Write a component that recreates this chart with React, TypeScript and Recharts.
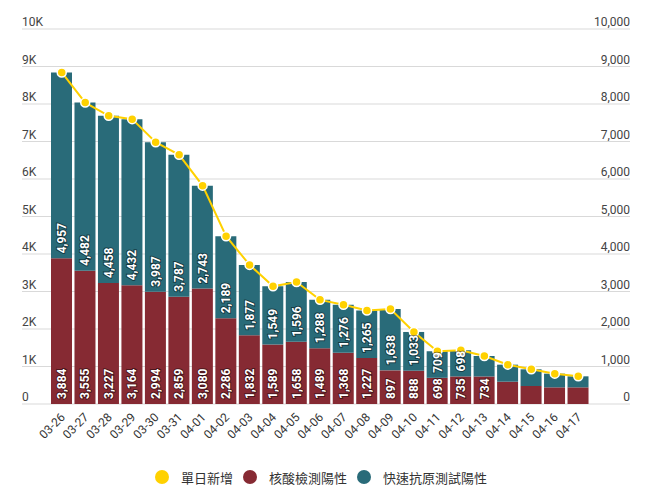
import React from 'react';
import { ComposedChart, Bar, Line, XAxis, YAxis, CartesianGrid, Legend, LabelList } from 'recharts';

const dates = ['03-26', '03-27', '03-28', '03-29', '03-30', '03-31', '04-01', '04-02', '04-03', '04-04', '04-05', '04-06', '04-07', '04-08', '04-09', '04-10', '04-11', '04-12', '04-13', '04-14', '04-15', '04-16', '04-17'];
const pcrPositive = [3884, 3555, 3227, 3164, 2994, 2859, 3080, 2286, 1832, 1589, 1658, 1489, 1368, 1227, 897, 888, 698, 735, 734, 595, 480, 444, 444];
const rapidPositive = [4957, 4482, 4458, 4432, 3987, 3787, 2743, 2189, 1877, 1549, 1596, 1288, 1276, 1265, 1638, 1033, 709, 698, 546, 454, 445, 365, 294];
const dailyNew = [8841, 8037, 7685, 7596, 6981, 6646, 5823, 4475, 3709, 3138, 3254, 2777, 2644, 2492, 2535, 1921, 1407, 1433, 1280, 1049, 925, 809, 738];
const yTicks = [0, 1000, 2000, 3000, 4000, 5000, 6000, 7000, 8000, 9000, 10000];

const seriesNames = ['單日新增', '核酸檢測陽性', '快速抗原測試陽性'];
const seriesColors = ['#FFD100', '#862A33', '#296B79'];

const data = dates.map((d, i) => ({
  date: d,
  pcr: pcrPositive[i],
  rapid: rapidPositive[i],
  total: dailyNew[i],
}));

const FONT = 'Roboto, "Noto Sans CJK TC", sans-serif';

const LeftTick = (props: any) => {
  const { x, y, payload } = props;
  const v = payload.value as number;
  return (
    <text x={x} y={Number(y) - 3} textAnchor="start" fill="#444" fontSize={12} fontFamily={FONT}>
      {v === 0 ? '0' : `${v / 1000}K`}
    </text>
  );
};

const RightTick = (props: any) => {
  const { x, y, payload } = props;
  const v = payload.value as number;
  return (
    <text x={x} y={Number(y) - 3} textAnchor="end" fill="#444" fontSize={12} fontFamily={FONT}>
      {v.toLocaleString('en-US')}
    </text>
  );
};

const XTick = (props: any) => {
  const { x, y, payload } = props;
  const ax = Number(x) + 4;
  const ay = Number(y) + 14;
  return (
    <text
      x={ax}
      y={ay}
      textAnchor="end"
      fill="#333"
      fontSize={12}
      fontFamily={FONT}
      transform={`rotate(-45 ${ax} ${ay})`}
    >
      {payload.value}
    </text>
  );
};

const BarLabel = (props: any) => {
  const { x, y, width, height, value } = props;
  if (value == null || Number(value) < 650) return null;
  const cx = Number(x) + Number(width) / 2 + 0.5;
  const by = Number(y) + Number(height) - 5;
  return (
    <text
      x={cx}
      y={by}
      transform={`rotate(-90 ${cx} ${by})`}
      textAnchor="start"
      dominantBaseline="central"
      fill="#fff"
      stroke="rgba(0,0,0,0.45)"
      strokeWidth={2}
      paintOrder="stroke"
      fontSize={12}
      fontWeight="bold"
      fontFamily={FONT}
    >
      {Number(value).toLocaleString('en-US')}
    </text>
  );
};

const renderLegend = () => (
  <div
    style={{
      display: 'flex',
      justifyContent: 'center',
      alignItems: 'center',
      height: 30,
      paddingRight: 11,
      fontFamily: FONT,
      fontSize: 13,
      color: '#333',
    }}
  >
    {seriesNames.map((n, i) => (
      <div key={n} style={{ display: 'flex', alignItems: 'center', marginRight: i < 2 ? 10 : 0 }}>
        <span
          style={{
            display: 'inline-block',
            width: 14,
            height: 14,
            borderRadius: 7,
            background: seriesColors[i],
            marginRight: 12,
          }}
        />
        <span>{n}</span>
      </div>
    ))}
  </div>
);

export default function App() {
  return (
    <div style={{ fontFamily: FONT }}>
      <ComposedChart
        width={637}
        height={492}
        data={data}
        margin={{ top: 21, right: 0, left: 14, bottom: 8 }}
      >
        <CartesianGrid yAxisId="left" vertical={false} stroke="#d9d9d9" />
        <XAxis
          dataKey="date"
          axisLine={false}
          tickLine={false}
          tickSize={0}
          tickMargin={0}
          interval={0}
          height={58}
          padding={{ left: 28, right: 40 }}
          tick={<XTick />}
        />
        <YAxis
          yAxisId="left"
          orientation="left"
          mirror
          width={60}
          domain={[0, 10000]}
          ticks={yTicks}
          interval={0}
          allowDataOverflow
          axisLine={false}
          tickLine={false}
          tickSize={0}
          tickMargin={0}
          tick={<LeftTick />}
        />
        <YAxis
          yAxisId="right"
          orientation="right"
          width={15}
          domain={[0, 10000]}
          ticks={yTicks}
          interval={0}
          allowDataOverflow
          axisLine={false}
          tickLine={false}
          tickSize={0}
          tickMargin={0}
          tick={<RightTick />}
        />
        <Legend verticalAlign="bottom" content={renderLegend} wrapperStyle={{ left: 0, width: 637 }} />
        <Bar
          yAxisId="left"
          dataKey="pcr"
          name={seriesNames[1]}
          stackId="a"
          fill={seriesColors[1]}
          barSize={21}
          isAnimationActive={false}
        >
          <LabelList dataKey="pcr" content={<BarLabel />} />
        </Bar>
        <Bar
          yAxisId="left"
          dataKey="rapid"
          name={seriesNames[2]}
          stackId="a"
          fill={seriesColors[2]}
          barSize={21}
          isAnimationActive={false}
        >
          <LabelList dataKey="rapid" content={<BarLabel />} />
        </Bar>
        <Line
          yAxisId="right"
          type="linear"
          dataKey="total"
          name={seriesNames[0]}
          stroke={seriesColors[0]}
          strokeWidth={2}
          dot={{ r: 4.5, fill: seriesColors[0], stroke: '#fff', strokeWidth: 1.5 }}
          activeDot={false}
          isAnimationActive={false}
        />
      </ComposedChart>
    </div>
  );
}
